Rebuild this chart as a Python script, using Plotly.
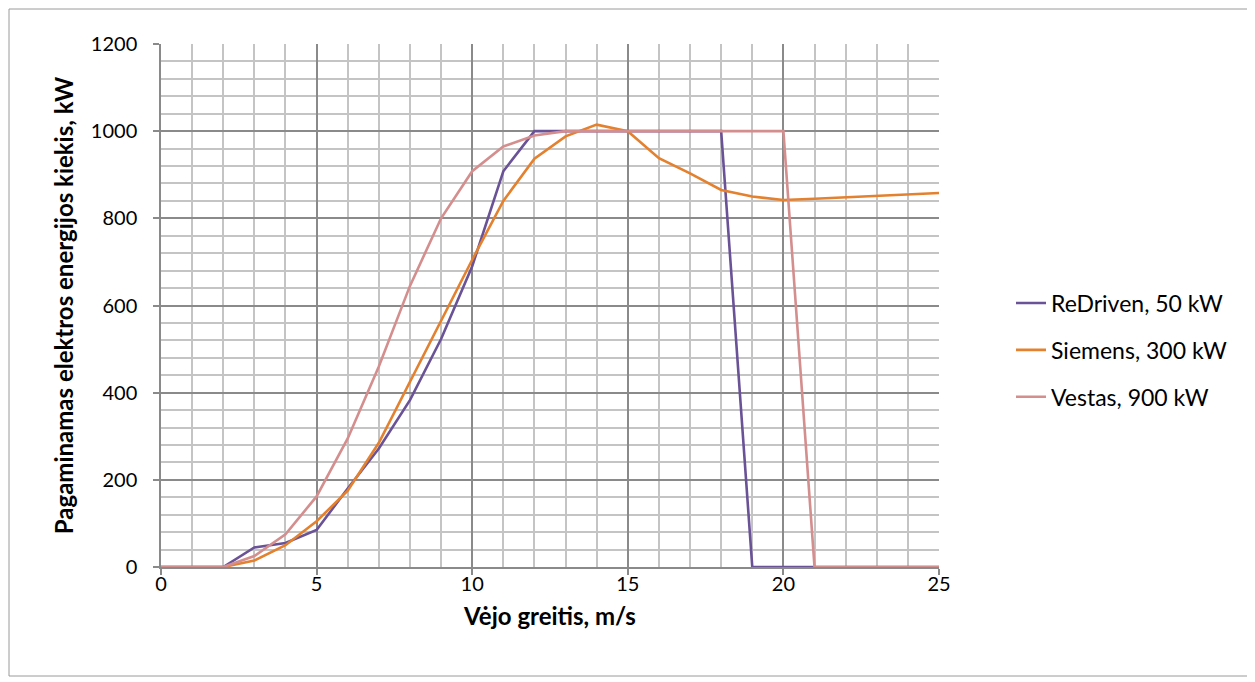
import plotly.graph_objects as go

wind_speed = list(range(0, 26))
redriven_50 = [0, 0, 0, 45, 55, 85, 180, 272, 383, 523, 690, 908, 1000, 1000, 1000,
               1000, 1000, 1000, 1000, 0, 0, 0, 0, 0, 0, 0]
siemens_300 = [0, 0, 0, 15, 50, 105, 175, 285, 425, 565, 705, 840, 937, 988, 1015,
               1000, 938, 903, 865, 850, 842, 845, 848, 851, 855, 858]
vestas_900 = [0, 0, 0, 25, 75, 162, 295, 460, 645, 800, 908, 965, 990, 1000, 1000,
              1000, 1000, 1000, 1000, 1000, 1000, 0, 0, 0, 0, 0]

series_names = ["ReDriven, 50 kW", "Siemens, 300 kW", "Vestas, 900 kW"]
series_values = [redriven_50, siemens_300, vestas_900]
series_colors = ["#6A5296", "#E3812F", "#D48E8E"]

x_ticks = [0, 5, 10, 15, 20, 25]
y_ticks = [0, 200, 400, 600, 800, 1000, 1200]

FONT = "Lato, Carlito, Calibri, sans-serif"

L, T, PW, PH = 153, 36, 778, 523
W, H = 1255, 682

fig = go.Figure()
for i, (name, vals, col) in enumerate(zip(series_names, series_values, series_colors)):
    fig.add_trace(go.Scatter(
        x=wind_speed, y=vals, name=name, mode="lines",
        line=dict(color=col, width=2.6), legendgroup=f"g{i}",
    ))

def px_x(fx):
    return (fx - L) / PW

def px_y(fy):
    return (T + PH - fy) / PH

fig.update_layout(
    width=W, height=H,
    margin=dict(l=L, r=W - L - PW, t=T, b=H - T - PH),
    paper_bgcolor="white", plot_bgcolor="white",
    font=dict(family=FONT, size=20, color="#000000"),
    legend=dict(x=px_x(1003), y=px_y(342), xanchor="left", yanchor="middle",
                tracegroupgap=14, font=dict(size=23, family=FONT),
                bgcolor="rgba(0,0,0,0)"),
    showlegend=True,
    shapes=[dict(type="rect", xref="paper", yref="paper",
                 x0=px_x(1), x1=px_x(1240), y0=px_y(668), y1=px_y(1),
                 line=dict(color="#9A9A9A", width=1), fillcolor="rgba(0,0,0,0)", layer="below")],
)

fig.update_xaxes(
    range=[0, 25], tickvals=x_ticks, ticktext=[str(t) for t in x_ticks],
    showgrid=True, gridcolor="#8A8A8A", gridwidth=1.5,
    minor=dict(dtick=1, showgrid=True, gridcolor="#C4C4C4", gridwidth=1.5, ticks=""),
    ticks="outside", ticklen=6, tickcolor="#8A8A8A", tickwidth=1.5,
    zeroline=False, showline=True, linecolor="#8A8A8A", linewidth=1.5,
    title=dict(text="<b>Vėjo greitis, m/s</b>", font=dict(size=24, family=FONT), standoff=14),
    tickfont=dict(size=20, family=FONT), ticklabelstandoff=-8,
)
fig.update_yaxes(
    range=[0, 1200], tickvals=y_ticks, ticktext=[str(t) for t in y_ticks],
    showgrid=True, gridcolor="#8A8A8A", gridwidth=1.5,
    minor=dict(dtick=40, showgrid=True, gridcolor="#C4C4C4", gridwidth=1.5, ticks=""),
    ticks="outside", ticklen=6, tickcolor="#8A8A8A", tickwidth=1.5,
    zeroline=False, showline=True, linecolor="#8A8A8A", linewidth=1.5,
    title=dict(text="<b>Pagaminamas elektros energijos kiekis, kW</b>",
               font=dict(size=24, family=FONT), standoff=10),
    tickfont=dict(size=20, family=FONT), ticklabelstandoff=12,
)

fig.write_html("out.html")
